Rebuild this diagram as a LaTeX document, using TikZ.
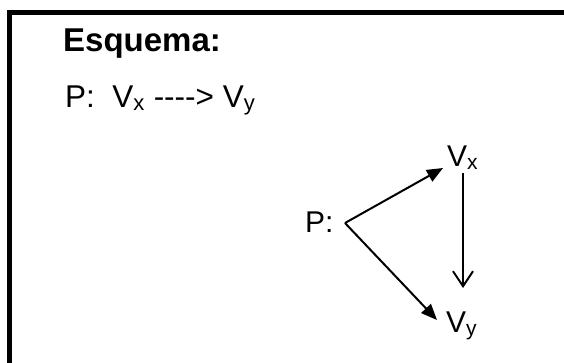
\documentclass[tikz,border=0pt]{standalone}
\usepackage{fontspec}
\setmainfont{Liberation Sans}
\usetikzlibrary{arrows.meta}
\begin{document}
\begin{tikzpicture}[x=1pt,y=-1pt,
  lbl/.style={inner sep=0pt, anchor=base west, font=\fontsize{30}{34}\selectfont},
  conn/.style={line width=2pt},
  filledtip/.style={-{Triangle[length=16pt,width=13pt]}},
  opentip/.style={-{Straight Barb[length=15pt,width=20pt,line width=2pt]}}]
\useasboundingbox (0,0) rectangle (564,362);
\begin{scope}
\clip (0,0) rectangle (564,362);
\fill[white] (0,0) rectangle (564,362);
\draw[line width=5pt] (9.5,380) -- (9.5,12.5) -- (600,12.5);
\end{scope}
\node[lbl, font=\fontsize{33}{38}\selectfont\bfseries] (title) at (63,51) {Esquema:};
\node[lbl, font=\fontsize{31.5}{36}\selectfont] (rule) at (65,107) {P:\ \ V\textsubscript{x} -{}-{}-{}-{}> V\textsubscript{y}};
\node[lbl] (P) at (305,232) {P:};
\node[lbl] (Vx) at (447,166) {V\textsubscript{x}};
\node[lbl] (Vy) at (446,332) {V\textsubscript{y}};
\coordinate (pv) at (345,223);
\coordinate (tx) at (443,168);
\coordinate (ty) at (437,320);
\coordinate (vtop) at (463,173);
\coordinate (vbot) at (463,288);
\draw[conn, filledtip] (pv) -- (tx);
\draw[conn, filledtip] (pv) -- (ty);
\draw[conn, opentip] (vtop) -- (vbot);
\end{tikzpicture}
\end{document}
